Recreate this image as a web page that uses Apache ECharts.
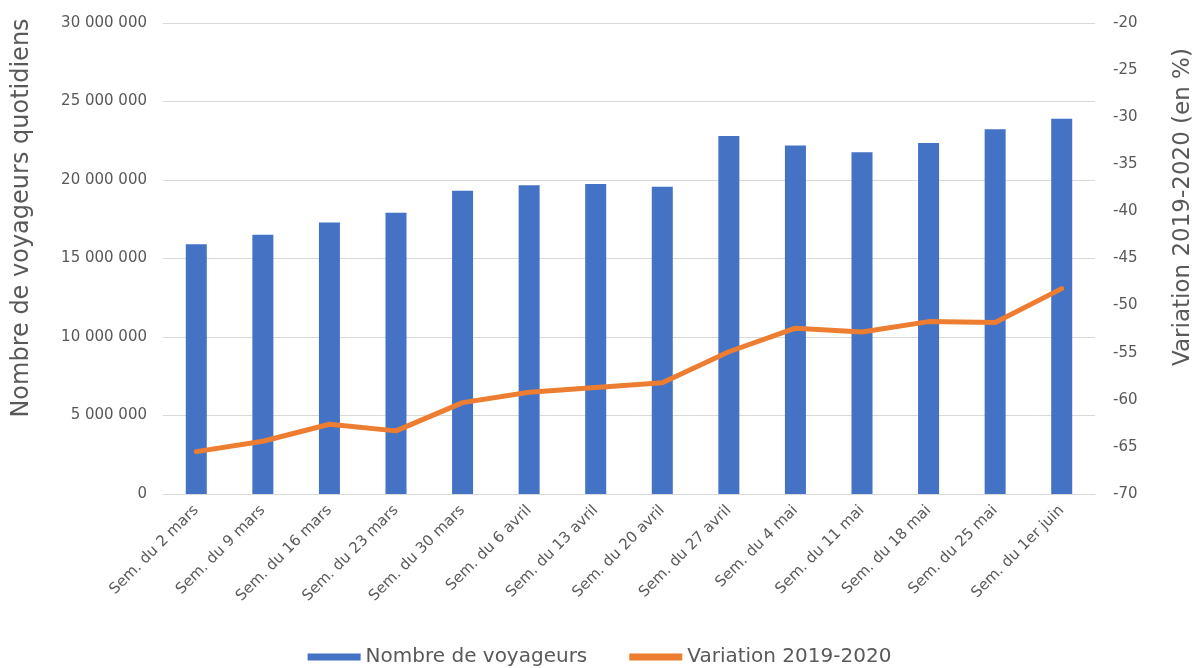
<!DOCTYPE html>
<html>
<head>
<meta charset="utf-8">
<script src="https://cdn.jsdelivr.net/npm/echarts@6/dist/echarts.min.js"></script>
<style>html,body{margin:0;padding:0;background:#fff}#c{width:1199px;height:668px}</style>
</head>
<body>
<div id="c"></div>
<script>
const categories = ["Sem. du 2 mars","Sem. du 9 mars","Sem. du 16 mars","Sem. du 23 mars","Sem. du 30 mars","Sem. du 6 avril","Sem. du 13 avril","Sem. du 20 avril","Sem. du 27 avril","Sem. du 4 mai","Sem. du 11 mai","Sem. du 18 mai","Sem. du 25 mai","Sem. du 1er juin"];
const voyageurs = [15900000,16520000,17300000,17920000,19320000,19660000,19750000,19570000,22800000,22190000,21760000,22360000,23230000,23900000];
const variation = [-65.5,-64.4,-62.6,-63.3,-60.3,-59.2,-58.7,-58.2,-54.9,-52.4,-52.8,-51.7,-51.8,-48.2];
const leftTicks = {min:0,max:30000000,interval:5000000};
const rightTicks = {min:-70,max:-20,interval:5};

const FONT = "DejaVu Sans";
const TXT = "#595959";
const fmt = v => String(v).replace(/\B(?=(\d{3})+(?!\d))/g, " ");

const chart = echarts.init(document.getElementById('c'));
chart.setOption({
  animation:false,
  textStyle:{fontFamily:FONT,color:TXT},
  grid:{left:163,right:104,top:23,bottom:174},
  legend:{
    bottom:-4,left:'center',itemGap:42,itemWidth:53,itemHeight:7,
    textStyle:{fontSize:20,color:TXT,fontFamily:FONT},
    data:[{name:'Nombre de voyageurs',icon:'rect'},{name:'Variation 2019-2020',icon:'rect'}]
  },
  xAxis:{
    type:'category',data:categories,
    axisLine:{lineStyle:{color:'#D9D9D9',width:1}},
    axisTick:{show:false},
    axisLabel:{rotate:45,fontSize:15,color:TXT,margin:14,interval:0,fontFamily:FONT}
  },
  yAxis:[
    {type:'value',min:leftTicks.min,max:leftTicks.max,interval:leftTicks.interval,
     axisLine:{show:false},axisTick:{show:false},
     axisLabel:{fontSize:15,color:TXT,margin:16,formatter:fmt,fontFamily:FONT},
     splitLine:{lineStyle:{color:'#D9D9D9',width:1}}},
    {type:'value',min:rightTicks.min,max:rightTicks.max,interval:rightTicks.interval,position:'right',
     axisLine:{show:false},axisTick:{show:false},
     axisLabel:{fontSize:15,color:TXT,margin:18,fontFamily:FONT},
     splitLine:{show:false}}
  ],
  graphic:[
    {type:'text',x:22,y:218,rotation:Math.PI/2,
     style:{text:'Nombre de voyageurs quotidiens',fill:TXT,font:'24px "DejaVu Sans"',align:'center',verticalAlign:'middle'}},
    {type:'text',x:1183,y:207,rotation:Math.PI/2,
     style:{text:'Variation 2019-2020 (en %)',fill:TXT,font:'23px "DejaVu Sans"',align:'center',verticalAlign:'middle'}}
  ],
  series:[
    {name:'Nombre de voyageurs',type:'bar',data:voyageurs,barWidth:21,yAxisIndex:0,
     itemStyle:{color:'#4472C4'}},
    {name:'Variation 2019-2020',type:'line',data:variation,yAxisIndex:1,symbol:'none',
     lineStyle:{color:'#ED7D31',width:5,cap:'round',join:'round'},itemStyle:{color:'#ED7D31'}}
  ]
});
</script>
</body>
</html>
